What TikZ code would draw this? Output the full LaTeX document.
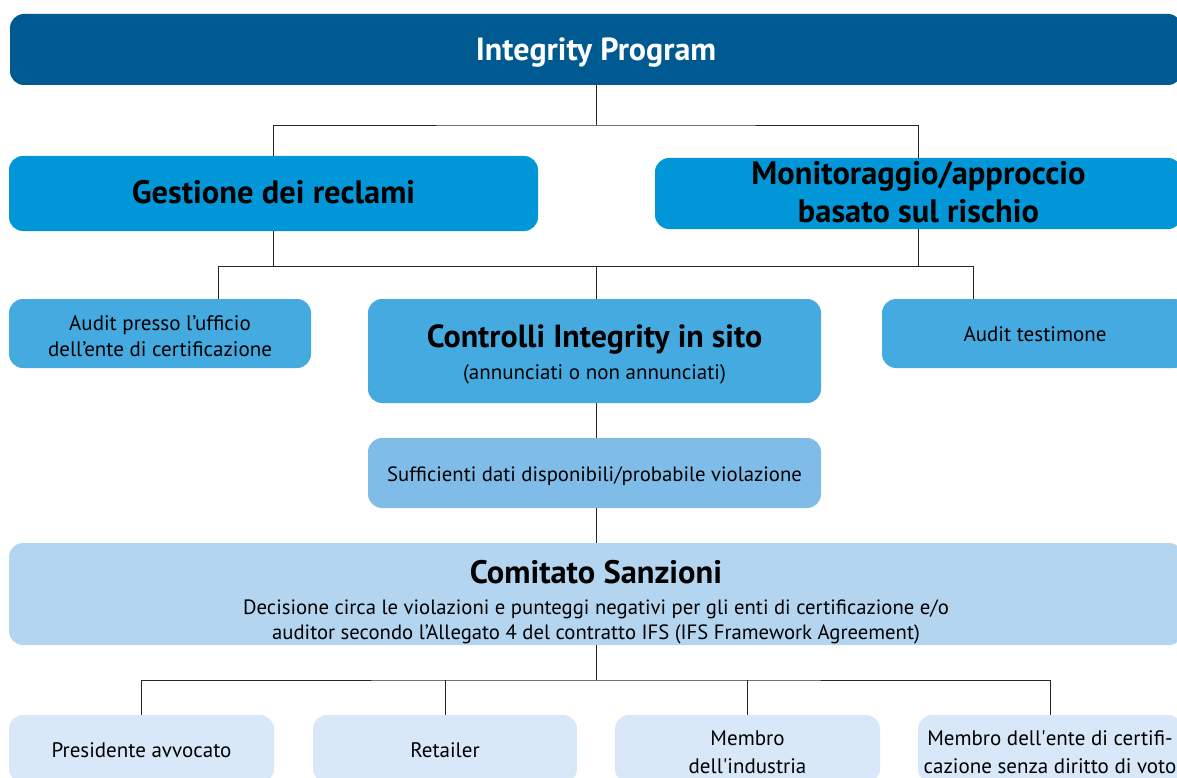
\documentclass[tikz,border=0pt]{standalone}
\usepackage{fontspec}
\setmainfont{PT Sans}
\begin{document}
\begin{tikzpicture}[x=1pt,y=-1pt,
  box/.style={rectangle,rounded corners=14pt,draw=none,inner sep=0pt},
  txt/.style={align=center,inner sep=0pt},
  big/.style={font=\bfseries\fontsize{32.5}{38}\selectfont},
  small/.style={font=\fontsize{21}{26}\selectfont},
  lvl0/.style={box,fill=c0},
  lvl1/.style={box,fill=c1},
  lvl2/.style={box,fill=c2},
  lvl3/.style={box,fill=c3},
  lvl4/.style={box,fill=c4},
  lvl5/.style={box,fill=c5},
  link/.style={draw=black!85,line width=0.9pt}]
\definecolor{c0}{RGB}{0,90,146}
\definecolor{c1}{RGB}{0,150,215}
\definecolor{c2}{RGB}{69,170,224}
\definecolor{c3}{RGB}{128,188,232}
\definecolor{c4}{RGB}{180,213,240}
\definecolor{c5}{RGB}{217,232,248}
\useasboundingbox (0,0) rectangle (1177,778);
\clip (0,0) rectangle (1177,778);

% top level
\node[lvl0,minimum width=1172pt,minimum height=71pt,
  label={[txt,text=white,font=\bfseries\fontsize{32}{36}\selectfont,yshift=-3pt]center:Integrity Program}]
  (top) at (596,49.5) {};

% first level
\node[lvl1,minimum width=529pt,minimum height=75pt,
  label={[txt,big,yshift=1pt]center:Gestione dei reclami}]
  (gest) at (273.5,193.5) {};
\node[lvl1,minimum width=527pt,minimum height=71pt,
  label={[txt,big,yshift=1pt]center:{Monitoraggio/approccio\\basato sul rischio}}]
  (mon) at (918.5,193.5) {};

% second level
\node[lvl2,minimum width=302pt,minimum height=69pt,
  label={[txt,small,yshift=-3pt]center:{Audit presso l’ufficio\\dell’ente di certificazione}}]
  (uff) at (160,333.5) {};
\node[lvl2,minimum width=453pt,minimum height=104pt,
  label={[txt,small,yshift=-3pt]center:{{\bfseries\fontsize{32}{34}\selectfont Controlli Integrity in sito}\\[6pt](annunciati o non annunciati)}}]
  (ctrl) at (594.5,351) {};
\node[lvl2,minimum width=306pt,minimum height=69pt,
  label={[txt,small,yshift=-1pt]center:Audit testimone}]
  (test) at (1035,333.5) {};

% evidence
\node[lvl3,minimum width=453pt,minimum height=70pt,
  label={[txt,font=\fontsize{20.7}{26}\selectfont,yshift=-3pt]center:Sufficienti dati disponibili/probabile violazione}]
  (suff) at (594.5,473) {};

% committee
\node[lvl4,minimum width=1174pt,minimum height=102pt,
  label={[txt,font=\fontsize{20.7}{25}\selectfont,yshift=-8pt]center:{{\bfseries\fontsize{32.5}{34}\selectfont Comitato Sanzioni}\\[6pt]Decisione circa le violazioni e punteggi negativi per gli enti di certificazione e/o\\auditor secondo l’Allegato 4 del contratto IFS (IFS Framework Agreement)}}]
  (com) at (596,594) {};

% members
\node[lvl5,minimum width=265pt,minimum height=68pt,
  label={[txt,small,yshift=-1pt]center:Presidente avvocato}]
  (pres) at (141.5,749) {};
\node[lvl5,minimum width=264pt,minimum height=68pt,
  label={[txt,small,yshift=-1pt]center:Retailer}]
  (ret) at (445,749) {};
\node[lvl5,minimum width=265pt,minimum height=68pt,
  label={[txt,font=\fontsize{21}{28}\selectfont,yshift=-3pt]center:{Membro\\dell\textquotesingle industria}}]
  (ind) at (747.5,749) {};
\node[lvl5,minimum width=264pt,minimum height=68pt,
  label={[txt,font=\fontsize{21}{28}\selectfont,yshift=-3pt]center:{Membro dell\textquotesingle ente di certifi-\\cazione senza diritto di voto}}]
  (ente) at (1050,749) {};

% junction coordinates
\coordinate (j1) at (596,125);
\coordinate (j2) at (596,266);
\coordinate (j2l) at (218,266);
\coordinate (j2r) at (973,266);
\coordinate (j3) at (596,680);

% connectors
\draw[link] (top.south -| j1) -- (j1);
\draw[link] (gest.north) |- (j1) -| (mon.north);
\draw[link] (gest.south) -- (gest.south |- j2);
\draw[link] (mon.south) -- (mon.south |- j2);
\draw[link] (j2l) -- (j2r);
\draw[link] (j2l) -- (uff.north -| j2l);
\draw[link] (j2) -- (ctrl.north -| j2);
\draw[link] (j2r) -- (test.north -| j2r);
\draw[link] (ctrl.south -| j2) -- (suff.north -| j2);
\draw[link] (suff.south -| j2) -- (com.north -| j2);
\draw[link] (com.south -| j3) -- (j3);
\draw[link] (pres.north) |- (j3) -| (ente.north);
\draw[link] (ret.north) -- (ret.north |- j3);
\draw[link] (ind.north) -- (ind.north |- j3);
\end{tikzpicture}
\end{document}
